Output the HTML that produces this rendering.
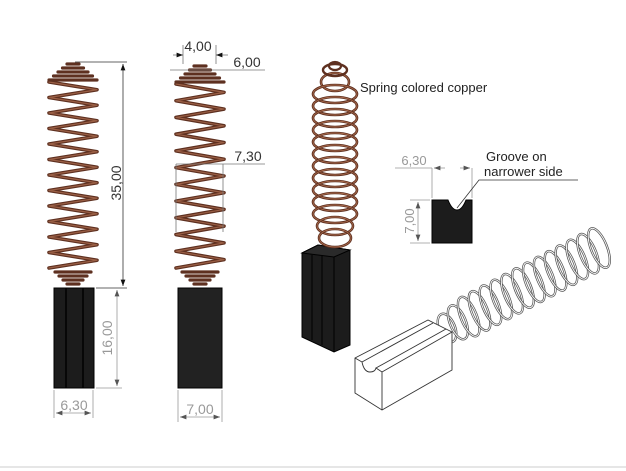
<!DOCTYPE html>
<html><head><meta charset="utf-8"><style>
html,body{margin:0;padding:0;background:#fff;}
svg{display:block;font-family:"Liberation Sans","DejaVu Sans",sans-serif;}
</style></head><body>
<svg id="s" width="626" height="471" viewBox="0 0 626 471" xmlns="http://www.w3.org/2000/svg">
<defs>
<marker id="a" markerWidth="8" markerHeight="6" refX="8" refY="3" orient="auto-start-reverse"><path d="M0,0 L8,3 L0,6 z" fill="#555"/></marker>
<marker id="k" markerWidth="8" markerHeight="6" refX="8" refY="3" orient="auto-start-reverse"><path d="M0,0 L8,3 L0,6 z" fill="#111"/></marker>
</defs>
<g id="springs" fill="none"></g>

<rect x="54" y="288" width="40" height="100" fill="#1c1c1c" stroke="#000"/>
<line x1="66" y1="288" x2="66" y2="388" stroke="#000" stroke-width="1.5"/>
<line x1="83" y1="288" x2="83" y2="388" stroke="#000" stroke-width="1.5"/>
<rect x="178" y="288" width="44" height="100" fill="#222" stroke="#000"/>

<g stroke="#333" stroke-width="0.8" fill="none">
<line x1="75" y1="62" x2="127" y2="62"/>
<line x1="96" y1="288" x2="127" y2="288"/>
<line x1="123" y1="64" x2="123" y2="286" marker-start="url(#k)" marker-end="url(#k)"/>
</g>
<text x="0" y="0" transform="translate(121,183) rotate(-90)" font-size="14" fill="#333" text-anchor="middle">35,00</text>
<g stroke="#999" stroke-width="0.8" fill="none">
<line x1="96" y1="388" x2="122" y2="388"/>
<line x1="117" y1="290" x2="117" y2="386" marker-start="url(#a)" marker-end="url(#a)"/>
<line x1="54" y1="390" x2="54" y2="418"/>
<line x1="93" y1="390" x2="93" y2="418"/>
<line x1="56" y1="413" x2="91" y2="413" marker-start="url(#a)" marker-end="url(#a)"/>
<line x1="178" y1="390" x2="178" y2="422"/>
<line x1="222" y1="390" x2="222" y2="422"/>
<line x1="180" y1="417" x2="220" y2="417" marker-start="url(#a)" marker-end="url(#a)"/>
</g>
<text x="0" y="0" transform="translate(112,338) rotate(-90)" font-size="14" fill="#999" text-anchor="middle">16,00</text>
<text x="74" y="410" font-size="14" fill="#999" text-anchor="middle">6,30</text>
<text x="200" y="414" font-size="14" fill="#999" text-anchor="middle">7,00</text>

<g stroke="#777" stroke-width="0.8" fill="none">
<line x1="183" y1="45" x2="183" y2="64"/>
<line x1="216" y1="45" x2="216" y2="64"/>
<line x1="173" y1="55" x2="183" y2="55" marker-end="url(#k)"/>
<line x1="228" y1="55" x2="216" y2="55" marker-end="url(#k)"/>
<line x1="170" y1="70" x2="265" y2="70"/>
<line x1="176" y1="164" x2="265" y2="164"/>
<line x1="176" y1="164" x2="176" y2="232"/>
<line x1="223" y1="164" x2="223" y2="232"/>
</g>
<text x="198" y="51" font-size="14" fill="#333" text-anchor="middle">4,00</text>
<text x="247" y="67" font-size="14" fill="#333" text-anchor="middle">6,00</text>
<text x="248" y="161" font-size="14" fill="#333" text-anchor="middle">7,30</text>

<polygon points="302,253 318,245 350,250 350,345 334,352 302,337" fill="#1c1c1c" stroke="#000"/>
<polygon points="302,253 318,245 350,250 334,257" fill="#2a2a2a" stroke="#000"/>
<line x1="334" y1="257" x2="334" y2="352" stroke="#000"/>
<line x1="312" y1="255" x2="312" y2="340" stroke="#000"/>
<line x1="322" y1="256" x2="322" y2="345" stroke="#000"/>
<g id="iso"></g>
<text x="360" y="92" font-size="13" fill="#222">Spring colored copper</text>

<path d="M432,200 L448,200 Q452,210 457,210 Q462,210 466,200 L472,200 L472,243 L432,243 Z" fill="#1c1c1c" stroke="#000"/>
<g stroke="#999" stroke-width="0.8" fill="none">
<line x1="395" y1="168" x2="432" y2="168"/>
<line x1="432" y1="168" x2="432" y2="198"/>
<line x1="472" y1="168" x2="472" y2="198"/>
<line x1="434" y1="168" x2="445" y2="168" marker-start="url(#a)"/>
<line x1="460" y1="168" x2="470" y2="168" marker-end="url(#a)"/>
<line x1="410" y1="200" x2="430" y2="200"/>
<line x1="410" y1="243" x2="430" y2="243"/>
<line x1="418" y1="202" x2="418" y2="241" marker-start="url(#a)" marker-end="url(#a)"/>
</g>
<text x="414" y="165" font-size="13" fill="#999" text-anchor="middle">6,30</text>
<text x="0" y="0" transform="translate(414,221) rotate(-90)" font-size="13" fill="#999" text-anchor="middle">7,00</text>
<text x="486" y="161" font-size="13" fill="#222">Groove on</text>
<text x="484" y="176" font-size="13" fill="#222">narrower side</text>
<polyline points="457,208 479,180 578,180" fill="none" stroke="#333" stroke-width="0.8"/>

<g fill="#fff" stroke="#333" stroke-width="0.9">
<polygon points="355,358 428,320 452,332 452,370 382,410 355,393"/>
<line x1="382" y1="372" x2="382" y2="410"/>
<path d="M355,358 L362,362 Q364,372 370,372 Q375,372 376,368 L382,372 L452,332" fill="none"/>
<path d="M362,362 L433,323 M376,368 L446,329" fill="none"/>
</g>
<line x1="0" y1="467" x2="626" y2="467" stroke="#ccc"/>
</svg>
<script>
var ns='http://www.w3.org/2000/svg';
var g=document.getElementById('springs'),gi=document.getElementById('iso');
function P(par,d,c,w){var p=document.createElementNS(ns,'path');p.setAttribute('d',d);p.setAttribute('stroke',c);p.setAttribute('stroke-width',w);p.setAttribute('fill','none');p.setAttribute('stroke-linejoin','round');p.setAttribute('stroke-linecap','round');par.appendChild(p);}
function E(par,cx,cy,rx,ry,rot,c,w){var e=document.createElementNS(ns,'ellipse');e.setAttribute('cx',cx);e.setAttribute('cy',cy);e.setAttribute('rx',rx);e.setAttribute('ry',ry);e.setAttribute('transform','rotate('+rot+' '+cx+' '+cy+')');e.setAttribute('stroke',c);e.setAttribute('stroke-width',w);e.setAttribute('fill','none');par.appendChild(e);}
function zig(cx,hw,top,bot,n){
 var d='',pitch=(bot-top-40)/n;
 for(var i=0;i<=2*n;i++){var y=top+20+i*pitch/2;var x=cx+(i%2?hw:-hw);d+=(i?'L':'M')+x+','+y+' ';}
 P(g,d,'#5e3020',3.6);P(g,d,'#9a5f45',1.2);
 for(var j=0;j<5;j++){var w=6+j*4.5;P(g,'M'+(cx-w)+','+(top+j*4+2)+' L'+(cx+w)+','+(top+j*4+2),'#5e3020',3.2);}
 for(var j=0;j<4;j++){var w=18-j*4;P(g,'M'+(cx-w)+','+(bot-16+j*4)+' L'+(cx+w)+','+(bot-16+j*4),'#5e3020',3.2);}
}
zig(73,24,62,288,12);
zig(200,24,64,288,11);
for(var i=0;i<14;i++){var y=82+i*12;var rx=i<1?14:(i>11?20-(i-11)*2:22);E(gi,335,y,rx,9,0,'#5e3020',2.6);E(gi,335,y,rx,9,0,'#a86a4c',0.9);}
E(gi,335,70,12,6,0,'#5e3020',2.4);E(gi,335,66,6,4,0,'#5e3020',2.2);
for(var i=0;i<15;i++){var t=i/14;var cx=447+t*152,cy=328-t*80;var ry=i<2?15+i*3:21;E(g,cx,cy,8,ry,-22,'#555',2.4);E(g,cx,cy,8,ry,-22,'#fff',0.9);}
</script>
</body></html>
